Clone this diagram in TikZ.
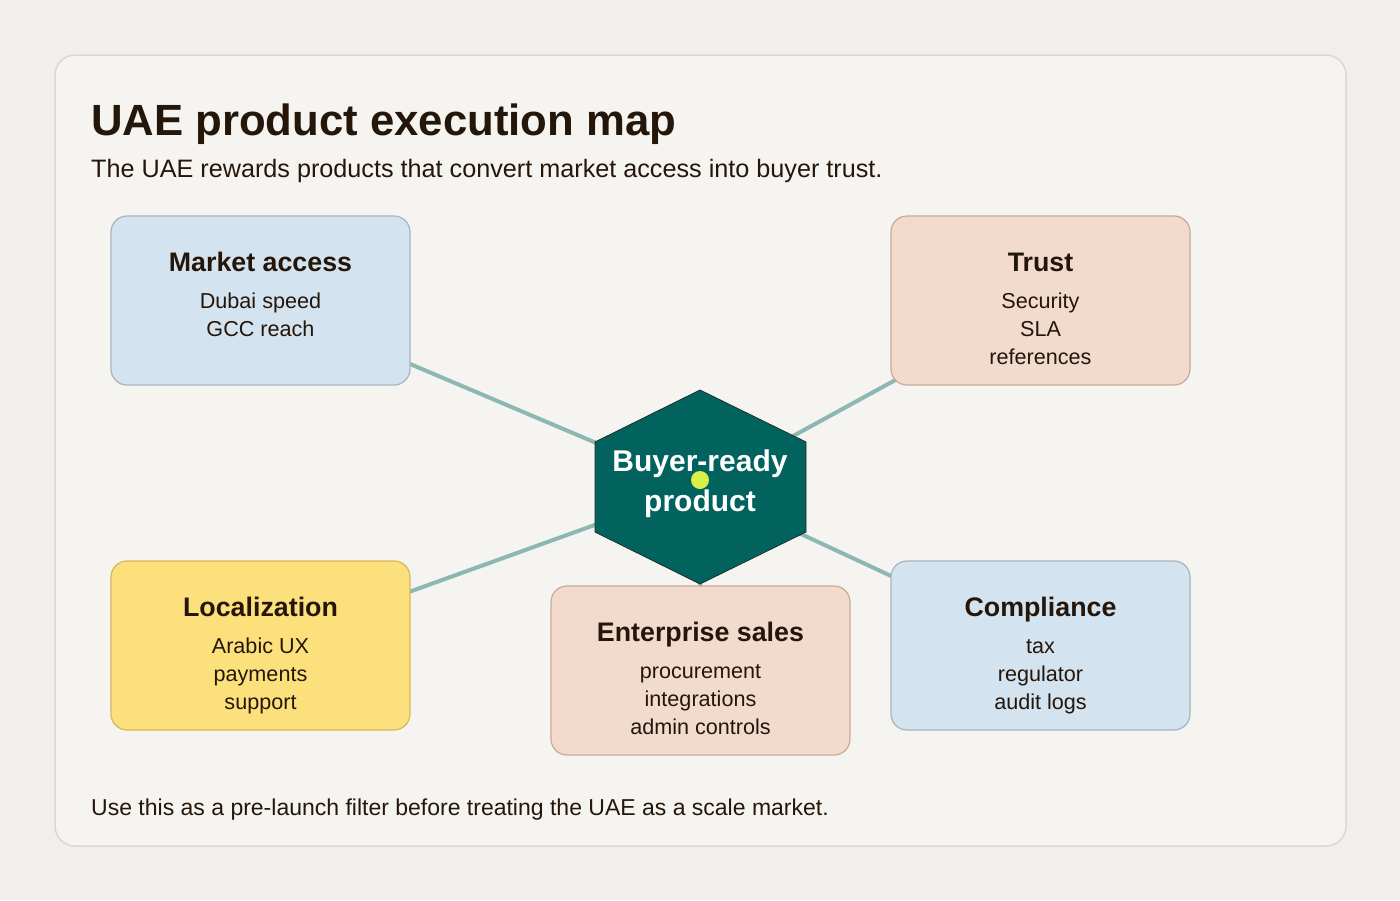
\documentclass[tikz,border=0pt]{standalone}
\usepackage{fontspec}
\setmainfont{Liberation Sans}
\definecolor{bg}{HTML}{F0EFEB}
\definecolor{panel}{HTML}{F5F4F1}
\definecolor{panelline}{HTML}{D9D8D4}
\definecolor{ink}{HTML}{25160A}
\definecolor{bluefill}{HTML}{D4E3F0}
\definecolor{blueline}{HTML}{A8B5BF}
\definecolor{peachfill}{HTML}{F2DACD}
\definecolor{peachline}{HTML}{C8AA98}
\definecolor{yelfill}{HTML}{FCE07C}
\definecolor{yelline}{HTML}{D5B75C}
\definecolor{teal}{HTML}{02635E}
\definecolor{tealline}{HTML}{1C2F2C}
\definecolor{link}{HTML}{8DB7B3}
\definecolor{dot}{HTML}{DAF04A}
\tikzset{
  card/.style={draw, line width=1.2pt, rounded corners=16pt, minimum width=299pt, minimum height=169pt, inner sep=0pt},
  bluecard/.style={card, fill=bluefill, draw=blueline},
  peachcard/.style={card, fill=peachfill, draw=peachline},
  yelcard/.style={card, fill=yelfill, draw=yelline},
  cardtitle/.style={anchor=base, text=ink, inner sep=0pt, font=\fontsize{26.8}{30}\selectfont\bfseries},
  cardbody/.style={anchor=base, text=ink, inner sep=0pt, align=center, font=\fontsize{21.6}{28}\selectfont},
  hubtext/.style={anchor=base, text=white, inner sep=0pt, align=center, font=\fontsize{30}{40}\selectfont\bfseries},
  connector/.style={draw=link, line width=4pt},
}
\begin{document}
\begin{tikzpicture}[x=1pt,y=-1pt]
\path[fill=bg] (0,0) rectangle (1400,900);
\useasboundingbox (0,0) rectangle (1400,900);
\path[fill=panel, draw=panelline, line width=1.5pt, rounded corners=20pt] (55,55) rectangle (1346,846);
\node[anchor=base west, inner sep=0pt, text=ink, font=\fontsize{43.7}{50}\selectfont\bfseries] (title) at (91,135) {UAE product execution map};
\node[anchor=base west, inner sep=0pt, text=ink, font=\fontsize{25.2}{30}\selectfont] (subtitle) at (91,177) {The UAE rewards products that convert market access into buyer trust.};
\node[anchor=base west, inner sep=0pt, text=ink, font=\fontsize{23}{28}\selectfont] (footer) at (91,815) {Use this as a pre-launch filter before treating the UAE as a scale market.};

\coordinate (hub) at (700,487);
\coordinate (maC) at (260.5,300.5);
\coordinate (trC) at (1040.5,300.5);
\coordinate (loC) at (260.5,645.5);
\coordinate (esC) at (700.5,670.5);
\coordinate (coC) at (1040.5,645.5);

\draw[connector] (hub) -- (maC);
\draw[connector] (hub) -- (trC);
\draw[connector] (hub) -- (loC);
\draw[connector] (hub) -- (esC);
\draw[connector] (hub) -- (coC);

\draw[fill=teal, draw=tealline, line width=0.8pt] (700,390) -- (806,442) -- (806,532) -- (700,584) -- (595,532) -- (595,442) -- cycle;
\node[hubtext] (hubtxt) at (700,511) {Buyer-ready\\product};
\fill[dot] (700,480) circle (9);

\node[bluecard] (ma) at (maC) {};
\node[peachcard] (tr) at (trC) {};
\node[yelcard] (lo) at (loC) {};
\node[peachcard] (es) at (esC) {};
\node[bluecard] (co) at (coC) {};

\node[cardtitle] (ma-t) at (260.5,271) {Market access};
\node[cardbody] (ma-b) at (260.5,336) {Dubai speed\\GCC reach};
\node[cardtitle] (tr-t) at (1040.5,271) {Trust};
\node[cardbody] (tr-b) at (1040.5,364) {Security\\SLA\\references};
\node[cardtitle] (lo-t) at (260.5,616) {Localization};
\node[cardbody] (lo-b) at (260.5,709) {Arabic UX\\payments\\support};
\node[cardtitle] (es-t) at (700.5,641) {Enterprise sales};
\node[cardbody] (es-b) at (700.5,734) {procurement\\integrations\\admin controls};
\node[cardtitle] (co-t) at (1040.5,616) {Compliance};
\node[cardbody] (co-b) at (1040.5,709) {tax\\regulator\\audit logs};
\end{tikzpicture}
\end{document}
